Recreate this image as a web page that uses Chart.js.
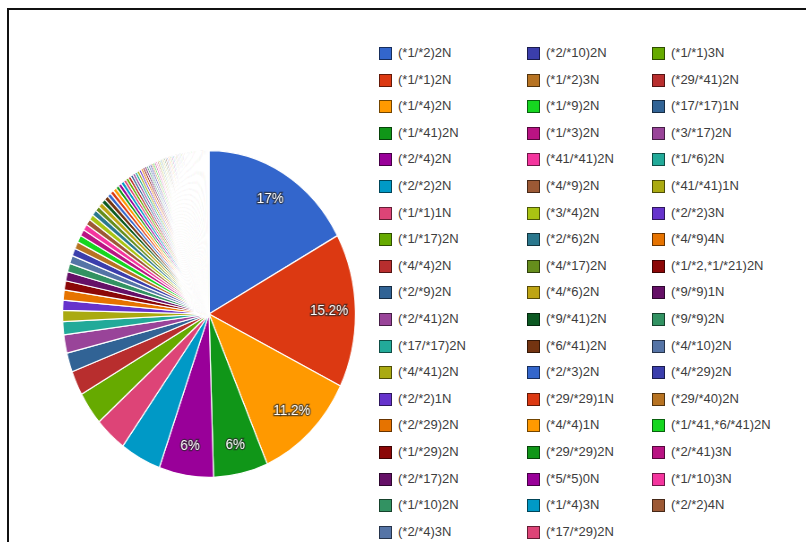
<!DOCTYPE html>
<html>
<head>
<meta charset="utf-8">
<script src="https://cdn.jsdelivr.net/npm/chart.js@4.4.1/dist/chart.umd.min.js"></script>
<style>
  html, body { margin: 0; padding: 0; background: #fff; overflow: hidden; }
  body { width: 806px; height: 542px; position: relative; font-family: Arial, "Liberation Sans", sans-serif; }
  #frame { position: absolute; left: 7px; top: 8px; width: 1000px; height: 1000px;
           border-top: 2px solid #111; border-left: 2px solid #111; }
  #pieBox { position: absolute; left: 45px; top: 150px; width: 328px; height: 328px;
            transform: scaleX(0.896); transform-origin: 50% 50%; }
  .item { position: absolute; height: 14px; font-size: 13px; color: #3d3d3d; white-space: nowrap; line-height: 14px; }
  .item span.box { position: absolute; left: 0; top: 1px; width: 11px; height: 11px; border: 1px solid rgba(0,0,0,0.55); }
  .item span.txt { position: absolute; left: 19px; top: 0; }
</style>
</head>
<body>
<div id="frame"></div>
<div id="pieBox"><canvas id="pie"></canvas></div>
<div id="legend"></div>
<script>
// legend entries, in slice order (listed column by column)
var labels = [
  '(*1/*2)2N', '(*1/*1)2N', '(*1/*4)2N', '(*1/*41)2N', '(*2/*4)2N', '(*2/*2)2N', '(*1/*1)1N',
  '(*1/*17)2N', '(*4/*4)2N', '(*2/*9)2N', '(*2/*41)2N', '(*17/*17)2N', '(*4/*41)2N', '(*2/*2)1N',
  '(*2/*29)2N', '(*1/*29)2N', '(*2/*17)2N', '(*1/*10)2N', '(*2/*4)3N',
  '(*2/*10)2N', '(*1/*2)3N', '(*1/*9)2N', '(*1/*3)2N', '(*41/*41)2N', '(*4/*9)2N', '(*3/*4)2N',
  '(*2/*6)2N', '(*4/*17)2N', '(*4/*6)2N', '(*9/*41)2N', '(*6/*41)2N', '(*2/*3)2N', '(*29/*29)1N',
  '(*4/*4)1N', '(*29/*29)2N', '(*5/*5)0N', '(*1/*4)3N', '(*17/*29)2N',
  '(*1/*1)3N', '(*29/*41)2N', '(*17/*17)1N', '(*3/*17)2N', '(*1/*6)2N', '(*41/*41)1N', '(*2/*2)3N',
  '(*4/*9)4N', '(*1/*2,*1/*21)2N', '(*9/*9)1N', '(*9/*9)2N', '(*4/*10)2N', '(*4/*29)2N', '(*29/*40)2N',
  '(*1/*41,*6/*41)2N', '(*2/*41)3N', '(*1/*10)3N', '(*2/*2)4N'
];

// percent share of each legend entry
var values = [
  17.0, 15.2, 11.2, 6.0, 6.0, 4.5, 3.5, 3.3, 2.4, 1.9, 1.8, 1.3, 1.1, 1.0, 1.0, 0.9, 0.9, 0.85, 0.8,
  0.75, 0.7, 0.7, 0.65, 0.6, 0.6, 0.55, 0.55, 0.5, 0.5, 0.45, 0.45, 0.4, 0.4, 0.4, 0.35, 0.35, 0.35, 0.3,
  0.3, 0.3, 0.28, 0.27, 0.26, 0.25, 0.24, 0.23, 0.22, 0.21, 0.2, 0.2, 0.19, 0.18, 0.18, 0.17, 0.16, 0.16
];

// the thin slices near 12 o'clock that have no legend entry
var tailValues = [
  0.16, 0.16, 0.15, 0.15, 0.15, 0.15, 0.14, 0.14, 0.14, 0.14, 0.14, 0.14,
  0.13, 0.13, 0.13, 0.13, 0.13, 0.13, 0.13, 0.13, 0.12, 0.12, 0.12, 0.12, 0.12,
  0.12, 0.12, 0.12, 0.12, 0.12, 0.11, 0.11, 0.11, 0.11, 0.11, 0.11, 0.11, 0.11,
  0.11, 0.1, 0.1, 0.1, 0.1, 0.1, 0.1
];

var palette = ['#3366cc','#dc3912','#ff9900','#109618','#990099','#0099c6','#dd4477','#66aa00',
  '#b82e2e','#316395','#994499','#22aa99','#aaaa11','#6633cc','#e67300','#8b0707','#651067',
  '#329262','#5574a6','#3b3eac','#b77322','#16d620','#b91383','#f4359e','#9c5935','#a9c413',
  '#2a778d','#668d1c','#bea413','#0c5922','#743411'];

var allValues = values.concat(tailValues);
var colors = allValues.map(function(v, i) { return palette[i % palette.length]; });

// percentage labels on the big slices
var pctLabels = {
  id: 'pctLabels',
  afterDatasetsDraw: function(chart) {
    var ctx = chart.ctx;
    var meta = chart.getDatasetMeta(0);
    var data = chart.data.datasets[0].data;
    var total = data.reduce(function(a, b) { return a + b; }, 0);
    ctx.save();
    ctx.font = '15px Arial, "Liberation Sans", sans-serif';
    ctx.textAlign = 'center';
    ctx.textBaseline = 'middle';
    meta.data.forEach(function(arc, i) {
      var share = data[i] / total;
      if (share < 0.05) return;
      var p = arc.getProps(['x', 'y', 'startAngle', 'endAngle', 'outerRadius'], true);
      var mid = (p.startAngle + p.endAngle) / 2;
      var r = p.outerRadius * 0.82;
      var x = p.x + Math.cos(mid) * r;
      var y = p.y + Math.sin(mid) * r;
      var txt = (Math.round(share * 1000) / 10) + '%';
      ctx.lineWidth = 2.5;
      ctx.strokeStyle = 'rgba(40,40,40,0.7)';
      ctx.strokeText(txt, x, y);
      ctx.fillStyle = '#fff';
      ctx.fillText(txt, x, y);
    });
    ctx.restore();
  }
};

new Chart(document.getElementById('pie'), {
  type: 'pie',
  data: {
    labels: labels,
    datasets: [{
      data: allValues,
      backgroundColor: colors,
      borderColor: '#fff',
      borderWidth: 1.2
    }]
  },
  options: {
    responsive: true,
    maintainAspectRatio: false,
    animation: false,
    layout: { padding: 0 },
    plugins: { legend: { display: false }, tooltip: { enabled: false } }
  },
  plugins: [pctLabels]
});

// legend, column by column (19 rows per column)
var colX = [379, 527, 652];
var legend = document.getElementById('legend');
labels.forEach(function(lab, i) {
  var col = Math.floor(i / 19), row = i % 19;
  var d = document.createElement('div');
  d.className = 'item';
  d.style.left = colX[col] + 'px';
  d.style.top = (46 + row * 26.6) + 'px';
  d.innerHTML = '<span class="box"></span><span class="txt"></span>';
  d.firstChild.style.background = colors[i];
  d.lastChild.textContent = lab;
  legend.appendChild(d);
});
</script>
</body>
</html>
